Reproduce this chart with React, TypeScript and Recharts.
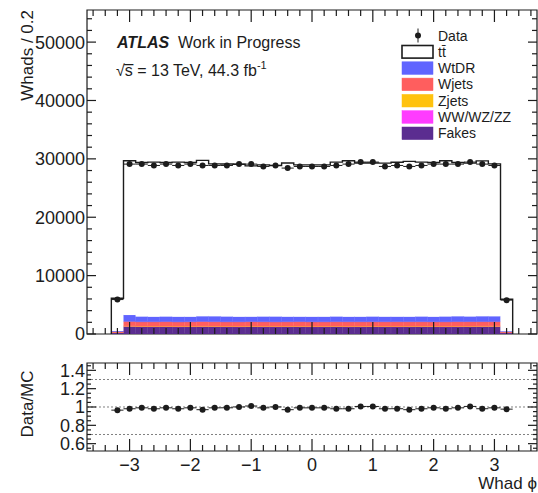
import {
  ComposedChart,
  Bar,
  Line,
  Scatter,
  XAxis,
  YAxis,
  ErrorBar,
  ReferenceLine,
  ReferenceArea,
} from "recharts";

// 0.2-wide bins in Whad phi
const binCenters = [
  -3.2, -3.0, -2.8, -2.6, -2.4, -2.2, -2.0, -1.8, -1.6, -1.4, -1.2, -1.0, -0.8,
  -0.6, -0.4, -0.2, 0.0, 0.2, 0.4, 0.6, 0.8, 1.0, 1.2, 1.4, 1.6, 1.8, 2.0, 2.2,
  2.4, 2.6, 2.8, 3.0, 3.2,
];
const binWidth = 0.2;

const dataCounts = [
  5900, 29100, 29100, 28870, 29100, 28870, 29100, 28870, 28870, 28870, 29100,
  29100, 28700, 28870, 28420, 28700, 28700, 28700, 28870, 29100, 29450, 29450,
  28700, 28870, 28700, 28870, 29100, 29100, 29100, 29450, 29100, 28870, 5800,
];

const ttbar = [
  5610, 26430, 26390, 26490, 26390, 26490, 26420, 26700, 26110, 26130, 26130,
  25820, 25990, 25870, 26310, 26000, 26020, 26010, 26450, 26720, 26320, 26300,
  26300, 26450, 26610, 26450, 26420, 26680, 26340, 26270, 26620, 26120, 5470,
];
const wtdr = [
  80, 1080, 880, 850, 860, 870, 850, 900, 920, 900, 860, 850, 880, 900, 870,
  850, 860, 870, 880, 850, 860, 880, 870, 860, 850, 880, 860, 900, 910, 880,
  920, 900, 70,
];
const wjets = [
  150, 760, 730, 740, 750, 730, 740, 760, 740, 730, 740, 750, 740, 730, 740,
  750, 740, 730, 740, 750, 740, 730, 740, 760, 750, 740, 730, 740, 760, 750,
  740, 730, 140,
];
const zjets = [
  15, 70, 70, 70, 70, 70, 70, 70, 70, 70, 70, 70, 70, 70, 70, 70, 70, 70, 70,
  70, 70, 70, 70, 70, 70, 70, 70, 70, 70, 70, 70, 70, 15,
];
const diboson = [
  5, 30, 30, 30, 30, 30, 30, 30, 30, 30, 30, 30, 30, 30, 30, 30, 30, 30, 30,
  30, 30, 30, 30, 30, 30, 30, 30, 30, 30, 30, 30, 30, 5,
];
const fakes = [
  250, 1300, 1270, 1260, 1270, 1250, 1260, 1280, 1270, 1260, 1250, 1270, 1260,
  1250, 1260, 1270, 1250, 1260, 1270, 1250, 1260, 1270, 1260, 1250, 1260, 1270,
  1260, 1250, 1260, 1270, 1280, 1290, 240,
];

const xMajorTicks = [-3, -2, -1, 0, 1, 2, 3];
const yMajorTicks = [0, 10000, 20000, 30000, 40000, 50000];
const ratioMajorTicks = [0.6, 0.8, 1, 1.2, 1.4];
const ratioGuides = [0.7, 1, 1.3];

// stacking order, bottom to top
const stack = [
  { key: "fakes", label: "Fakes", color: "#5b2d90", values: fakes },
  { key: "diboson", label: "WW/WZ/ZZ", color: "#ff3cff", values: diboson },
  { key: "zjets", label: "Zjets", color: "#ffc20e", values: zjets },
  { key: "wjets", label: "Wjets", color: "#ff5e5e", values: wjets },
  { key: "wtdr", label: "WtDR", color: "#6064ff", values: wtdr },
  { key: "ttbar", label: "t\u0074\u0304", color: "#ffffff", values: ttbar },
];

const X_DOMAIN: [number, number] = [-3.7, 3.7];
const Y_DOMAIN: [number, number] = [0, 55500];
const R_DOMAIN: [number, number] = [0.52, 1.48];

const FONT = '"Liberation Sans", Arial, Helvetica, sans-serif';
const INK = "#1c1c1c";
// axes need a non-zero thickness to be drawn; keep it negligible
const THIN = 0.01;

// frame edges (svg coords of each chart)
const PLOT_LEFT = 87;
const PLOT_RIGHT = 537;
const MAIN_TOP = 10;
const MAIN_BOTTOM = 334;
const RATIO_TOP = 8;
const RATIO_BOTTOM = 96;

const steps = (from: number, to: number, step: number) => {
  const out: number[] = [];
  const n = Math.round((to - from) / step);
  for (let i = 0; i <= n; i++) out.push(+(from + i * step).toFixed(3));
  return out;
};
const xAllTicks = steps(-3.6, 3.6, 0.2);
const yAllTicks = steps(0, 54000, 2000);
const ratioAllTicks = steps(0.55, 1.45, 0.05);

const rows = binCenters.map((x, i) => {
  const row: Record<string, number> = { x, xErr: binWidth / 2 };
  let mc = 0;
  stack.forEach((s) => {
    row[s.key] = s.values[i];
    mc += s.values[i];
  });
  row.mc = mc;
  row.data = dataCounts[i];
  row.dataErr = Math.sqrt(dataCounts[i]);
  row.ratio = dataCounts[i] / mc;
  row.ratioErr = Math.sqrt(dataCounts[i]) / mc;
  return row;
});

// total MC outline as a step path over the bin edges, dropping to zero at both ends
const outline = [{ x: rows[0].x - binWidth / 2, y: 0 }];
rows.forEach((r) => {
  outline.push({ x: r.x - binWidth / 2, y: r.mc });
  outline.push({ x: r.x + binWidth / 2, y: r.mc });
});
outline.push({ x: rows[rows.length - 1].x + binWidth / 2, y: 0 });

const fmtMinus = (v: number) => (v < 0 ? `\u2212${Math.abs(v)}` : `${v}`);
const isMajor = (v: number, majors: number[]) =>
  majors.some((m) => Math.abs(m - v) < 1e-6);

// x ticks: drawn inward on bottom and top edges, labels under the bottom edge
const makeXTick =
  (top: number, bottom: number, majors: number[], label: boolean) =>
  (p: any) => {
    const v = p.payload?.value;
    const major = isMajor(v, majors);
    const len = major ? 12 : 6;
    return (
      <g>
        <line x1={p.x} x2={p.x} y1={bottom} y2={bottom - len} stroke={INK} strokeWidth={1.2} />
        <line x1={p.x} x2={p.x} y1={top} y2={top + len} stroke={INK} strokeWidth={1.2} />
        {label && major && (
          <text x={p.x} y={bottom + 7} dy="0.72em" textAnchor="middle" fontSize={18} fontFamily={FONT} fill={INK}>
            {fmtMinus(v)}
          </text>
        )}
      </g>
    );
  };

// y ticks: drawn inward on left and right edges, labels left of the frame
const makeYTick = (majors: number[], minorLen: number) => (p: any) => {
  const v = p.payload?.value;
  const major = isMajor(v, majors);
  const len = major ? 9 : minorLen;
  return (
    <g>
      <line x1={PLOT_LEFT} x2={PLOT_LEFT + len} y1={p.y} y2={p.y} stroke={INK} strokeWidth={1.2} />
      <line x1={PLOT_RIGHT} x2={PLOT_RIGHT - len} y1={p.y} y2={p.y} stroke={INK} strokeWidth={1.2} />
      {major && (
        <text x={PLOT_LEFT - 2} y={p.y} dy="0.36em" textAnchor="end" fontSize={18} fontFamily={FONT} fill={INK}>
          {fmtMinus(v)}
        </text>
      )}
    </g>
  );
};

function frame(opts: {
  yDomain: [number, number];
  yTicks: number[];
  yMajor: number[];
  yMinorLen: number;
  top: number;
  bottom: number;
  xLabels: boolean;
}) {
  const { yDomain, yTicks, yMajor, yMinorLen, top, bottom, xLabels } = opts;
  return [
    <ReferenceArea
      key="box"
      xAxisId="x"
      yAxisId="y"
      x1={X_DOMAIN[0]}
      x2={X_DOMAIN[1]}
      y1={yDomain[0]}
      y2={yDomain[1]}
      fill="none"
      fillOpacity={0}
      stroke={INK}
      strokeWidth={1.2}
      ifOverflow="visible"
    />,
    <XAxis
      key="x"
      xAxisId="x"
      dataKey="x"
      type="number"
      domain={X_DOMAIN}
      allowDataOverflow
      ticks={xAllTicks}
      interval={0}
      tickSize={0}
      tickLine={false}
      axisLine={false}
      height={THIN}
      tick={makeXTick(top, bottom, xMajorTicks, xLabels)}
    />,
    <YAxis
      key="y"
      yAxisId="y"
      type="number"
      domain={yDomain}
      allowDataOverflow
      ticks={yTicks}
      interval={0}
      tickSize={0}
      tickLine={false}
      axisLine={false}
      width={THIN}
      tick={makeYTick(yMajor, yMinorLen)}
    />,
  ];
}

const DataDot = (p: any) => <circle cx={p.cx} cy={p.cy} r={3} fill={INK} />;

const legendRows = [
  { label: "Data", kind: "data", color: INK },
  ...stack
    .slice()
    .reverse()
    .map((s) => ({ label: s.label, kind: s.key, color: s.color })),
];

export default function App() {
  return (
    <div
      style={{
        position: "absolute",
        left: 0,
        top: 0,
        width: 538,
        height: 493,
        background: "#fff",
        fontFamily: FONT,
      }}
    >
      <div style={{ position: "absolute", left: 0, top: 0 }}>
        <ComposedChart
          width={538}
          height={350}
          data={rows}
          margin={{ top: MAIN_TOP, right: 538 - PLOT_RIGHT, bottom: 350 - MAIN_BOTTOM, left: PLOT_LEFT }}
          barCategoryGap={0}
          barGap={0}
        >
          {stack.map((s) => (
            <Bar
              key={s.key}
              xAxisId="x"
              yAxisId="y"
              dataKey={s.key}
              stackId="mc"
              fill={s.color}
              stroke={s.key === "ttbar" ? "none" : s.color}
              strokeWidth={0.5}
              isAnimationActive={false}
            />
          ))}
          <XAxis xAxisId="edge" dataKey="x" type="number" domain={X_DOMAIN} allowDataOverflow hide />
          <Line
            xAxisId="edge"
            yAxisId="y"
            data={outline}
            dataKey="y"
            type="linear"
            stroke={INK}
            strokeWidth={1.4}
            dot={false}
            isAnimationActive={false}
          />
          <Scatter
            xAxisId="x"
            yAxisId="y"
            data={rows}
            dataKey="data"
            shape={DataDot}
            isAnimationActive={false}
          >
            <ErrorBar dataKey="xErr" direction="x" width={0} stroke={INK} strokeWidth={1} />
            <ErrorBar dataKey="dataErr" direction="y" width={0} stroke={INK} strokeWidth={1} />
          </Scatter>
          {frame({
            yDomain: Y_DOMAIN,
            yTicks: yAllTicks,
            yMajor: yMajorTicks,
            yMinorLen: 5,
            top: MAIN_TOP,
            bottom: MAIN_BOTTOM,
            xLabels: false,
          })}
        </ComposedChart>
      </div>

      <div style={{ position: "absolute", left: 0, top: 355 }}>
        <ComposedChart
          width={538}
          height={138}
          data={rows}
          margin={{ top: RATIO_TOP, right: 538 - PLOT_RIGHT, bottom: 138 - RATIO_BOTTOM, left: PLOT_LEFT }}
        >
          {ratioGuides.map((v) => (
            <ReferenceLine
              key={v}
              xAxisId="x"
              yAxisId="y"
              y={v}
              stroke="#808080"
              strokeDasharray="2 2"
              strokeWidth={1}
            />
          ))}
          <Scatter
            xAxisId="x"
            yAxisId="y"
            data={rows}
            dataKey="ratio"
            shape={DataDot}
            isAnimationActive={false}
          >
            <ErrorBar dataKey="xErr" direction="x" width={0} stroke={INK} strokeWidth={1} />
            <ErrorBar dataKey="ratioErr" direction="y" width={0} stroke={INK} strokeWidth={1} />
          </Scatter>
          {frame({
            yDomain: R_DOMAIN,
            yTicks: ratioAllTicks,
            yMajor: ratioMajorTicks,
            yMinorLen: 4,
            top: RATIO_TOP,
            bottom: RATIO_BOTTOM,
            xLabels: true,
          })}
        </ComposedChart>
      </div>

      <svg
        width={538}
        height={493}
        style={{ position: "absolute", left: 0, top: 0, pointerEvents: "none" }}
        fontFamily={FONT}
        fill={INK}
      >
        <text x={117} y={47.5} fontSize={16} fontWeight="bold" fontStyle="italic">
          ATLAS
        </text>
        <text x={178} y={47.5} fontSize={16}>
          Work in Progress
        </text>
        <text x={116} y={75.5} fontSize={16}>
          {"\u221As\u0305 = 13 TeV, 44.3 fb"}
          <tspan fontSize={11} dy={-7}>
            -1
          </tspan>
        </text>

        {legendRows.map((r, i) => {
          const cy = 35.5 + i * 16.3;
          return (
            <g key={r.kind}>
              {r.kind === "data" ? (
                <g>
                  <line x1={418} x2={418} y1={cy - 7} y2={cy + 7} stroke={INK} strokeWidth={1} />
                  <circle cx={418} cy={cy} r={3} fill={INK} />
                </g>
              ) : (
                <rect
                  x={402}
                  y={cy - 6.3}
                  width={31}
                  height={12.6}
                  fill={r.color}
                  stroke={r.kind === "ttbar" ? INK : r.color}
                  strokeWidth={r.kind === "ttbar" ? 1.6 : 0.5}
                />
              )}
              <text x={438} y={cy + 5} fontSize={14}>
                {r.label}
              </text>
            </g>
          );
        })}

        <text transform="translate(33,10) rotate(-90)" textAnchor="end" fontSize={17}>
          Whads / 0.2
        </text>
        <text transform="translate(33,404) rotate(-90)" textAnchor="middle" fontSize={17}>
          Data/MC
        </text>
        <text x={537} y={489} textAnchor="end" fontSize={17}>
          Whad {"\u03D5"}
        </text>
      </svg>
    </div>
  );
}
